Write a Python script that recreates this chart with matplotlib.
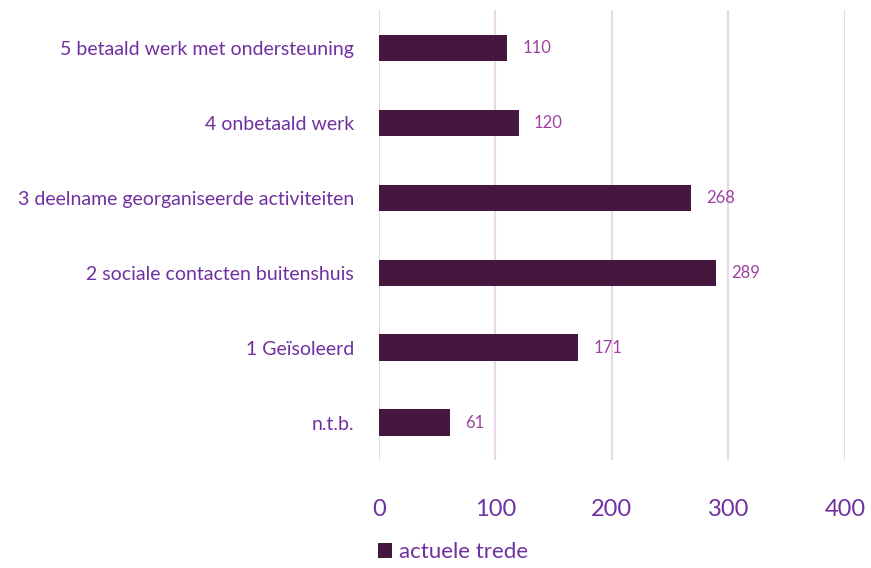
import numpy as np
import matplotlib.pyplot as plt

plt.rcParams['font.family'] = ['Lato', 'DejaVu Sans']

categories = ['n.t.b.', '1 Geïsoleerd', '2 sociale contacten buitenshuis',
              '3 deelname georganiseerde activiteiten', '4 onbetaald werk',
              '5 betaald werk met ondersteuning']
values = [61, 171, 289, 268, 120, 110]
xticks = [0, 100, 200, 300, 400]

bar_color = '#45173F'
label_color = '#7030A0'
value_color = '#A040A0'
grid_color = '#EAD7EA'

fig = plt.figure(figsize=(8.71, 5.68), dpi=100)
ax = fig.add_axes([0.435, 0.19, 0.535, 0.792])

y = np.arange(len(categories))
ax.barh(y, values, height=0.35, color=bar_color, label='actuele trede', zorder=3)
for yi, v in zip(y, values):
    ax.text(v + 13, yi, str(v), va='center', ha='left', fontsize=12, color=value_color)

ax.set_xlim(0, 400)
ax.set_ylim(-0.5, len(categories) - 0.5)
ax.set_xticks(xticks)
ax.set_xticklabels([str(t) for t in xticks], fontsize=17, color=label_color)
ax.set_yticks(y)
ax.set_yticklabels(categories, fontsize=14, color=label_color)
ax.tick_params(axis='x', length=0, pad=28)
ax.tick_params(axis='y', length=0, pad=18)
ax.grid(axis='x', color=grid_color, linewidth=1.5, zorder=0)
for s in ax.spines.values():
    s.set_visible(False)

leg = fig.legend(loc='lower center', bbox_to_anchor=(0.52, -0.025), frameon=False,
                 fontsize=16, handlelength=0.65, handleheight=0.65, handletextpad=0.3)
for t in leg.get_texts():
    t.set_color(label_color)

fig.savefig('out.png', dpi=100)
